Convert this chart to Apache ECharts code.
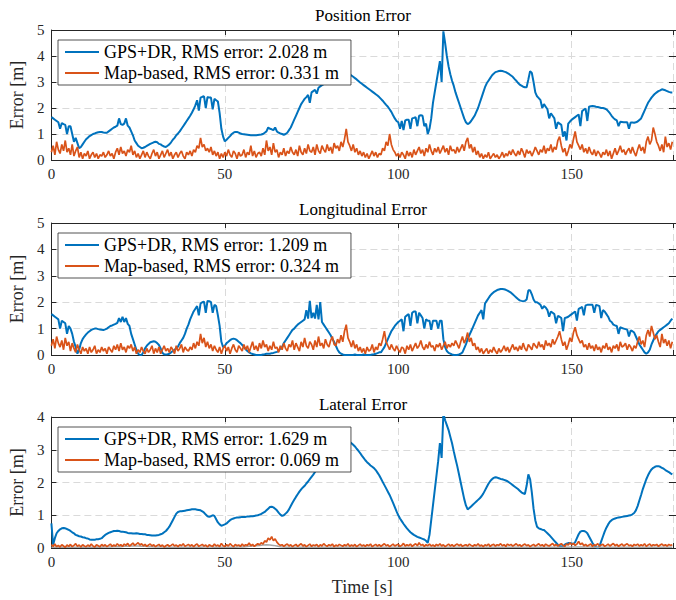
<!DOCTYPE html>
<html>
<head>
<meta charset="utf-8">
<script src="https://cdn.jsdelivr.net/npm/echarts@6/dist/echarts.min.js"></script>
<style>html,body{margin:0;padding:0;background:#fff;}#chart{width:676px;height:600px;}</style>
</head>
<body>
<div id="chart"></div>
<script>
// ---- DATA (sampled every 0.5 s unless noted) ----
const SAMPLE_STEP = 0.5;
const subplotTitles = ['Position Error', 'Longitudinal Error', 'Lateral Error'];
const xTickValues = [0, 50, 100, 150];
const yMaxes = [5, 5, 4];
const gpsNames = ['GPS+DR, RMS error: 2.028 m', 'GPS+DR, RMS error: 1.209 m', 'GPS+DR, RMS error: 1.629 m'];
const mapNames = ['Map-based, RMS error: 0.331 m', 'Map-based, RMS error: 0.324 m', 'Map-based, RMS error: 0.069 m'];

const positionGps = [
1.65,1.6,1.55,1.5,1.45,1.2,1.42,1.38,1.35,1.0,
1.3,1.3,1.0,0.7,0.85,0.65,0.45,0.5,0.6,0.7,
0.8,0.86,0.92,0.96,1.0,1.02,1.05,1.07,1.08,1.08,
1.06,1.05,1.05,1.1,1.15,1.2,1.25,1.28,1.32,1.6,
1.38,1.35,1.4,1.6,1.32,1.25,1.1,0.95,0.75,0.65,
0.55,0.5,0.45,0.47,0.5,0.54,0.58,0.62,0.65,0.68,
0.7,0.68,0.62,0.6,0.55,0.52,0.5,0.55,0.6,0.68,
0.78,0.85,0.95,1.02,1.1,1.2,1.3,1.4,1.5,1.6,
1.7,1.82,1.95,2.1,2.3,1.9,2.4,2.43,2.45,2.0,
2.42,2.4,2.4,1.95,2.35,2.3,2.25,1.8,1.2,0.9,
0.72,0.78,0.85,0.92,1.0,1.05,1.08,1.08,1.05,1.02,
1.0,0.99,0.98,0.97,0.96,0.95,0.95,0.95,0.95,0.96,
0.97,0.98,1.0,1.05,1.1,1.25,1.2,1.18,1.15,1.25,
1.1,1.05,1.02,1.0,0.97,1.0,1.05,1.15,1.25,1.4,
1.55,1.7,1.85,2.0,2.15,2.25,2.35,2.42,2.5,2.2,
2.6,2.65,2.7,2.55,2.78,2.83,2.88,2.92,2.95,3.0,
3.05,3.1,3.15,3.2,3.25,3.28,3.3,3.32,3.33,3.34,
3.33,3.32,3.3,3.25,3.2,3.15,3.1,3.04,2.98,2.93,
2.88,2.83,2.78,2.73,2.68,2.63,2.58,2.53,2.48,2.42,
2.35,2.28,2.2,2.12,2.05,1.95,1.85,1.72,1.6,1.5,
1.45,1.2,1.5,1.15,1.52,1.55,1.55,1.2,1.6,1.62,
1.65,1.3,1.7,1.72,1.7,1.3,1.4,1.0,1.2,1.6,
2.2,2.6,3.0,3.4,3.8,3.0,4.95,4.5,4.0,3.6,
3.3,3.05,2.85,2.6,2.4,2.2,2.0,1.8,1.6,1.45,
1.38,1.42,1.5,1.6,1.7,1.85,2.0,2.2,2.4,2.6,
2.8,2.95,3.05,3.15,3.25,3.32,3.38,3.4,3.42,3.43,
3.42,3.4,3.38,3.34,3.3,3.25,3.2,3.12,3.05,2.97,
2.9,2.86,2.82,2.8,2.8,3.1,3.42,3.35,3.0,2.6,
2.45,2.38,2.3,2.0,2.15,2.05,1.95,1.6,1.8,1.7,
1.6,1.2,1.45,1.4,1.35,0.9,1.1,0.75,1.4,1.48,
1.55,1.6,1.65,1.7,1.75,1.3,1.88,1.93,1.98,1.5,
2.05,2.07,2.08,2.07,2.05,2.04,2.02,2.0,2.0,1.98,
1.95,1.88,1.8,1.7,1.62,1.56,1.52,1.3,1.47,1.46,
1.45,1.45,1.45,1.2,1.44,1.44,1.43,1.45,1.48,1.54,
1.6,1.75,1.9,2.05,2.2,2.3,2.4,2.48,2.55,2.6,
2.65,2.68,2.72,2.7,2.68,2.65,2.62,2.6,2.6
];

const positionMap = [
0.3,0.55,0.2,0.7,0.4,0.25,0.6,0.35,0.75,0.3,
0.45,0.2,0.6,0.15,0.35,0.5,0.1,0.3,0.05,0.25,
0.15,0.35,0.05,0.2,0.3,0.1,0.25,0.05,0.2,0.15,
0.3,0.1,0.2,0.35,0.15,0.25,0.05,0.3,0.45,0.2,
0.5,0.25,0.35,0.15,0.4,0.3,0.55,0.2,0.35,0.1,
0.25,0.05,0.2,0.35,0.1,0.3,0.15,0.05,0.25,0.4,
0.15,0.3,0.05,0.2,0.35,0.1,0.25,0.4,0.15,0.3,
0.05,0.2,0.3,0.1,0.25,0.35,0.15,0.05,0.3,0.2,
0.35,0.15,0.4,0.3,0.55,0.45,0.85,0.5,0.6,0.35,
0.45,0.3,0.5,0.2,0.35,0.15,0.3,0.05,0.25,0.1,
0.3,0.15,0.4,0.2,0.1,0.35,0.25,0.05,0.3,0.15,
0.2,0.4,0.1,0.3,0.2,0.55,0.15,0.35,0.1,0.25,
0.3,0.15,0.45,0.2,0.75,0.35,0.5,0.2,0.65,0.3,
0.4,0.1,0.3,0.2,0.45,0.15,0.35,0.25,0.5,0.3,
0.2,0.4,0.15,0.55,0.3,0.2,0.45,0.25,0.6,0.35,
0.3,0.5,0.2,0.6,0.35,0.25,0.55,0.4,0.3,0.6,
0.35,0.5,0.25,0.65,0.45,0.55,0.35,0.7,0.5,0.8,
1.2,0.7,0.55,0.35,0.6,0.3,0.45,0.2,0.35,0.15,
0.3,0.1,0.25,0.05,0.2,0.35,0.15,0.3,0.1,0.25,
0.2,0.45,0.35,0.7,0.55,1.0,0.6,0.4,0.3,0.15,
0.25,0.1,0.3,0.2,0.05,0.35,0.15,0.3,0.1,0.4,
0.2,0.35,0.5,0.25,0.4,0.15,0.45,0.3,0.6,0.35,
0.2,0.45,0.3,0.5,0.25,0.4,0.55,0.3,0.45,0.2,
0.55,0.35,0.4,0.25,0.5,0.3,0.45,0.6,0.35,0.7,
0.85,0.45,0.6,0.3,0.5,0.2,0.35,0.1,0.25,0.05,
0.2,0.1,0.3,0.05,0.15,0.25,0.1,0.2,0.05,0.15,
0.3,0.1,0.25,0.15,0.35,0.2,0.4,0.25,0.15,0.35,
0.2,0.45,0.3,0.1,0.4,0.25,0.35,0.15,0.3,0.5,
0.35,0.2,0.4,0.3,0.55,0.25,0.45,0.35,0.6,0.3,
0.5,0.4,0.75,0.9,0.55,0.3,0.45,0.15,0.35,0.6,
0.45,0.8,1.1,0.7,0.55,0.4,0.6,0.3,0.45,0.25,
0.5,0.3,0.2,0.4,0.15,0.35,0.25,0.1,0.3,0.2,
0.4,0.15,0.35,0.05,0.25,0.45,0.2,0.35,0.55,0.3,
0.4,0.2,0.35,0.45,0.25,0.5,0.3,0.15,0.4,0.6,
0.35,0.5,0.25,0.7,0.9,0.6,0.75,1.25,1.0,0.7,
0.55,0.35,0.6,0.3,0.9,0.5,0.65,0.4,0.7
];

const longitudinalGps = [
1.55,1.5,1.45,1.4,1.35,1.0,1.3,1.25,1.2,0.8,
1.1,1.0,0.8,0.5,0.3,0.05,0.2,0.45,0.6,0.7,
0.78,0.85,0.9,0.95,0.98,1.0,1.0,0.98,0.97,0.96,
0.95,0.97,1.0,1.05,1.1,1.12,1.15,1.18,1.22,1.4,
1.25,1.45,1.25,1.4,1.18,1.1,0.8,0.6,0.4,0.2,
0.05,0.0,0.0,0.1,0.25,0.35,0.42,0.48,0.5,0.52,
0.5,0.45,0.38,0.25,0.08,0.03,0.02,0.03,0.05,0.1,
0.15,0.2,0.25,0.32,0.45,0.55,0.65,0.8,1.0,1.15,
1.35,1.5,1.65,1.75,1.85,1.5,1.95,2.0,2.02,1.6,
2.05,2.04,2.0,1.6,1.9,1.85,1.5,1.1,0.5,0.3,
0.35,0.45,0.5,0.56,0.6,0.62,0.6,0.56,0.5,0.45,
0.38,0.3,0.22,0.15,0.1,0.06,0.04,0.02,0.0,0.0,
0.0,0.0,0.02,0.03,0.05,0.05,0.05,0.07,0.08,0.1,
0.12,0.15,0.25,0.3,0.45,0.55,0.65,0.75,0.85,0.95,
1.0,1.08,1.15,1.2,1.25,1.3,1.35,1.7,1.38,2.05,
1.4,1.6,1.38,1.9,1.35,2.0,1.25,1.15,1.05,0.95,
0.85,0.75,0.6,0.5,0.35,0.2,0.1,0.05,0.02,0.0,
0.0,0.0,0.0,0.0,0.0,0.02,0.0,0.0,0.0,0.0,
0.02,0.0,0.0,0.0,0.0,0.02,0.03,0.05,0.07,0.1,
0.1,0.2,0.3,0.45,0.6,0.75,0.9,1.0,1.1,1.18,
1.25,1.3,1.35,0.9,1.45,1.5,1.55,1.1,1.6,1.65,
1.65,1.2,1.6,1.5,1.4,1.0,1.35,1.3,1.3,0.95,
1.3,1.3,1.3,1.0,1.3,1.3,0.6,0.3,0.15,0.08,
0.05,0.02,0.0,0.0,0.0,0.02,0.05,0.1,0.25,0.4,
0.6,0.75,0.9,1.05,1.2,1.35,1.5,1.6,1.7,1.35,
1.95,2.05,2.15,2.25,2.32,2.38,2.42,2.46,2.48,2.5,
2.5,2.49,2.47,2.44,2.4,2.36,2.3,2.24,2.18,2.12,
2.07,2.05,2.04,2.05,2.1,2.45,2.45,2.3,2.1,2.0,
2.0,1.95,1.9,1.75,1.85,1.8,1.7,1.45,1.65,1.6,
1.55,1.2,1.48,1.45,1.4,0.9,1.4,1.42,1.45,1.5,
1.55,1.6,1.65,1.3,1.75,1.78,1.82,1.5,1.88,1.9,
1.9,1.9,1.9,1.6,1.9,1.88,1.85,1.4,1.7,1.65,
1.55,1.45,1.3,1.25,1.15,1.12,1.1,0.8,1.05,1.02,
1.0,0.98,0.96,0.7,0.93,0.9,0.85,0.7,0.55,0.4,
0.3,0.2,0.1,0.05,0.1,0.2,0.4,0.55,0.7,0.8,
0.9,0.95,1.0,1.05,1.1,1.15,1.2,1.3,1.38
];

const longitudinalMap = [
0.35,0.6,0.25,0.7,0.45,0.3,0.55,0.2,0.65,0.35,
0.5,0.15,0.45,0.25,0.1,0.4,0.2,0.05,0.3,0.15,
0.25,0.05,0.3,0.1,0.2,0.35,0.05,0.2,0.1,0.3,
0.15,0.25,0.05,0.3,0.2,0.1,0.35,0.2,0.4,0.15,
0.45,0.2,0.3,0.1,0.35,0.25,0.4,0.15,0.3,0.05,
0.2,0.1,0.3,0.15,0.05,0.25,0.1,0.2,0.35,0.05,
0.25,0.1,0.3,0.05,0.2,0.35,0.15,0.25,0.1,0.3,
0.2,0.05,0.35,0.15,0.25,0.4,0.1,0.3,0.2,0.15,
0.3,0.2,0.45,0.25,0.5,0.35,0.8,0.45,0.65,0.3,
0.5,0.25,0.4,0.15,0.35,0.2,0.1,0.3,0.05,0.25,
0.35,0.15,0.3,0.05,0.25,0.4,0.2,0.1,0.35,0.25,
0.15,0.4,0.2,0.35,0.1,0.3,0.5,0.2,0.35,0.15,
0.45,0.25,0.55,0.3,0.4,0.15,0.35,0.2,0.5,0.25,
0.3,0.1,0.35,0.2,0.45,0.25,0.15,0.4,0.3,0.55,
0.2,0.45,0.3,0.15,0.5,0.3,0.65,0.35,0.25,0.5,
0.4,0.2,0.55,0.3,0.7,0.35,0.45,0.25,0.6,0.4,
0.3,0.55,0.7,0.4,0.35,0.6,0.45,0.75,0.5,0.9,
1.15,0.65,0.5,0.3,0.55,0.25,0.4,0.15,0.3,0.1,
0.25,0.05,0.3,0.15,0.2,0.4,0.1,0.3,0.2,0.45,
0.35,0.6,0.9,0.5,0.35,0.2,0.4,0.25,0.15,0.35,
0.2,0.1,0.3,0.25,0.05,0.35,0.2,0.4,0.15,0.3,
0.45,0.25,0.35,0.55,0.3,0.2,0.4,0.25,0.5,0.3,
0.35,0.15,0.4,0.3,0.45,0.2,0.35,0.5,0.25,0.4,
0.3,0.45,0.35,0.55,0.4,0.25,0.5,0.7,0.45,0.6,
0.85,0.5,0.65,0.35,0.45,0.2,0.3,0.1,0.25,0.05,
0.15,0.25,0.05,0.2,0.1,0.3,0.15,0.05,0.25,0.1,
0.2,0.35,0.15,0.3,0.1,0.25,0.4,0.2,0.3,0.15,
0.35,0.2,0.45,0.25,0.15,0.4,0.3,0.2,0.45,0.35,
0.25,0.5,0.3,0.4,0.2,0.55,0.35,0.45,0.3,0.6,
0.4,0.55,0.7,0.9,0.6,0.35,0.5,0.2,0.4,0.65,
0.5,0.85,1.05,0.75,0.6,0.45,0.55,0.3,0.4,0.2,
0.45,0.25,0.35,0.15,0.4,0.2,0.3,0.1,0.35,0.25,
0.45,0.2,0.3,0.1,0.35,0.25,0.4,0.15,0.5,0.3,
0.35,0.45,0.2,0.4,0.3,0.15,0.35,0.25,0.5,0.7,
0.4,0.55,0.3,0.75,0.95,0.7,1.1,0.85,0.6,0.75,
0.5,0.3,0.8,0.45,0.6,0.35,0.55,0.25,0.5
];

const lateralGps = [
0.75,0.1,0.3,0.45,0.52,0.57,0.6,0.61,0.6,0.58,
0.55,0.52,0.48,0.45,0.4,0.38,0.36,0.35,0.33,0.32,
0.3,0.29,0.26,0.25,0.25,0.25,0.27,0.27,0.28,0.3,
0.35,0.4,0.43,0.46,0.48,0.5,0.52,0.52,0.53,0.52,
0.5,0.5,0.49,0.48,0.46,0.45,0.45,0.44,0.44,0.45,
0.44,0.43,0.43,0.42,0.42,0.4,0.4,0.39,0.38,0.38,
0.38,0.39,0.4,0.42,0.44,0.48,0.52,0.58,0.65,0.75,
0.85,0.95,1.05,1.1,1.12,1.12,1.13,1.14,1.15,1.16,
1.17,1.18,1.18,1.18,1.17,1.16,1.15,1.12,1.08,1.02,
0.97,0.95,0.97,1.0,0.98,0.88,0.78,0.72,0.68,0.7,
0.72,0.75,0.8,0.85,0.88,0.9,0.92,0.93,0.93,0.94,
0.95,0.95,0.95,0.96,0.96,0.97,0.97,0.98,0.99,1.0,
1.02,1.04,1.07,1.1,1.15,1.2,1.25,1.26,1.24,1.2,
1.15,1.08,1.02,0.98,1.0,1.05,1.1,1.18,1.28,1.38,
1.47,1.56,1.64,1.72,1.79,1.85,1.9,1.97,2.03,2.1,
2.17,2.24,2.32,2.4,2.48,2.57,2.65,2.74,2.82,2.9,
2.98,3.05,3.1,3.15,3.2,3.24,3.28,3.3,3.32,3.33,
3.32,3.28,3.24,3.2,3.15,3.1,3.03,2.97,2.9,2.82,
2.75,2.68,2.62,2.57,2.52,2.48,2.44,2.38,2.3,2.22,
2.12,2.02,1.92,1.82,1.72,1.62,1.5,1.38,1.25,1.12,
1.0,0.9,0.82,0.74,0.67,0.6,0.54,0.48,0.44,0.4,
0.37,0.34,0.32,0.3,0.28,0.26,0.22,0.16,0.4,0.85,
1.3,1.75,2.2,2.65,3.2,2.75,4.1,3.9,3.75,3.6,
3.4,3.2,2.95,2.72,2.5,2.25,2.0,1.75,1.5,1.3,
1.18,1.22,1.27,1.32,1.37,1.42,1.47,1.52,1.58,1.66,
1.76,1.86,1.96,2.04,2.1,2.14,2.16,2.15,2.13,2.11,
2.1,2.08,2.06,2.04,2.0,1.96,1.92,1.88,1.84,1.8,
1.75,1.7,1.67,1.65,1.9,2.25,2.1,1.7,1.2,0.85,
0.65,0.6,0.58,0.56,0.55,0.5,0.45,0.4,0.34,0.28,
0.22,0.16,0.1,0.06,0.05,0.06,0.1,0.13,0.15,0.15,
0.14,0.12,0.18,0.3,0.42,0.5,0.52,0.52,0.5,0.45,
0.35,0.25,0.15,0.08,0.03,0.0,0.05,0.2,0.35,0.5,
0.62,0.72,0.8,0.85,0.88,0.9,0.92,0.93,0.94,0.95,
0.96,0.97,0.98,0.99,1.0,1.03,1.07,1.15,1.28,1.45,
1.62,1.8,1.95,2.1,2.22,2.32,2.4,2.45,2.48,2.5,
2.5,2.48,2.45,2.42,2.38,2.35,2.32,2.28,2.25
];

const lateralMap = [
0.1,0.05,0.12,0.04,0.08,0.03,0.1,0.06,0.02,0.09,
0.05,0.11,0.04,0.08,0.13,0.05,0.09,0.03,0.1,0.06,
0.04,0.09,0.05,0.12,0.06,0.03,0.1,0.07,0.04,0.11,
0.06,0.1,0.04,0.08,0.12,0.05,0.09,0.06,0.13,0.07,
0.1,0.05,0.12,0.08,0.14,0.06,0.1,0.15,0.08,0.12,
0.16,0.09,0.13,0.07,0.11,0.05,0.09,0.12,0.06,0.1,
0.04,0.08,0.11,0.05,0.09,0.03,0.07,0.1,0.05,0.08,
0.12,0.06,0.09,0.04,0.1,0.07,0.13,0.05,0.08,0.11,
0.06,0.1,0.04,0.09,0.12,0.05,0.08,0.11,0.06,0.09,
0.03,0.1,0.07,0.05,0.12,0.06,0.09,0.04,0.14,0.07,
0.05,0.1,0.06,0.13,0.08,0.04,0.11,0.07,0.09,0.05,
0.12,0.06,0.1,0.08,0.15,0.07,0.11,0.05,0.09,0.13,
0.1,0.16,0.12,0.22,0.18,0.3,0.25,0.35,0.22,0.28,
0.18,0.12,0.08,0.1,0.05,0.09,0.12,0.06,0.1,0.04,
0.08,0.11,0.05,0.09,0.13,0.06,0.1,0.04,0.08,0.12,
0.05,0.09,0.07,0.11,0.04,0.1,0.06,0.13,0.08,0.05,
0.1,0.07,0.12,0.04,0.09,0.06,0.11,0.08,0.05,0.1,
0.07,0.13,0.05,0.09,0.06,0.11,0.04,0.08,0.12,0.06,
0.09,0.05,0.1,0.07,0.12,0.04,0.08,0.11,0.06,0.1,
0.05,0.09,0.13,0.07,0.1,0.04,0.08,0.12,0.06,0.09,
0.11,0.05,0.08,0.14,0.06,0.1,0.07,0.12,0.05,0.09,
0.13,0.07,0.16,0.08,0.11,0.05,0.1,0.07,0.12,0.06,
0.09,0.05,0.11,0.07,0.13,0.06,0.1,0.04,0.08,0.12,
0.06,0.1,0.05,0.09,0.12,0.07,0.11,0.05,0.08,0.1,
0.06,0.12,0.08,0.05,0.1,0.07,0.13,0.06,0.09,0.04,
0.1,0.07,0.12,0.05,0.09,0.11,0.06,0.1,0.08,0.13,
0.07,0.1,0.05,0.12,0.08,0.11,0.06,0.09,0.13,0.07,
0.1,0.05,0.09,0.12,0.07,0.1,0.04,0.08,0.11,0.06,
0.09,0.13,0.07,0.1,0.05,0.12,0.08,0.06,0.1,0.14,
0.07,0.11,0.06,0.1,0.13,0.08,0.05,0.12,0.09,0.16,
0.1,0.14,0.08,0.12,0.2,0.1,0.15,0.07,0.11,0.06,
0.09,0.12,0.05,0.1,0.08,0.13,0.06,0.09,0.11,0.05,
0.08,0.12,0.06,0.1,0.14,0.07,0.11,0.05,0.09,0.12,
0.06,0.1,0.13,0.07,0.09,0.05,0.11,0.08,0.12,0.06,
0.1,0.07,0.13,0.05,0.09,0.12,0.06,0.1,0.08,0.11,
0.05,0.09,0.12,0.07,0.1,0.06,0.11,0.08,0.1
];

// grey reference trace in the lateral plot (sampled every 1 s)
const REF_STEP = 1;
const lateralRef = [
0.02,0.02,0.03,0.02,0.02,0.03,0.02,0.02,0.02,0.02,
0.02,0.02,0.02,0.03,0.02,0.03,0.03,0.03,0.04,0.04,
0.04,0.05,0.05,0.06,0.06,0.06,0.05,0.05,0.04,0.04,
0.03,0.03,0.03,0.02,0.02,0.02,0.02,0.02,0.02,0.02,
0.02,0.02,0.02,0.02,0.03,0.03,0.03,0.02,0.02,0.02,
0.02,0.02,0.02,0.02,0.03,0.03,0.04,0.05,0.06,0.07,
0.08,0.09,0.1,0.09,0.08,0.06,0.04,0.03,0.02,0.02,
0.02,0.02,0.02,0.03,0.02,0.02,0.02,0.02,0.02,0.02,
0.02,0.02,0.02,0.02,0.02,0.03,0.02,0.02,0.02,0.02,
0.02,0.02,0.02,0.02,0.02,0.02,0.02,0.02,0.02,0.02,
0.02,0.02,0.02,0.02,0.02,0.02,0.03,0.02,0.02,0.02,
0.02,0.02,0.02,0.02,0.02,0.02,0.02,0.02,0.02,0.02,
0.02,0.02,0.02,0.02,0.02,0.02,0.02,0.02,0.02,0.02,
0.02,0.02,0.02,0.02,0.02,0.02,0.02,0.02,0.02,0.02,
0.02,0.02,0.02,0.02,0.02,0.02,0.02,0.02,0.02,0.02,
0.03,0.03,0.03,0.03,0.03,0.03,0.02,0.02,0.02,0.02,
0.02,0.02,0.02,0.02,0.02,0.02,0.02,0.02,0.02,0.02,
0.02,0.02,0.02,0.02,0.02,0.02,0.02,0.02,0.02,0.02
];

// ---- BUILD ----
const gpsSeries = [positionGps, longitudinalGps, lateralGps];
const mapSeries = [positionMap, longitudinalMap, lateralMap];

const FONT = 'Liberation Serif';
const AX = '#262626';
const BLUE = '#0072BD', ORANGE = '#D95319', GREY = '#a6a6a6';
const X_MAX = 179.2;
const gridTops = [30, 223, 417];
const gridHeights = [130, 132, 131];
const titleYs = [16, 210, 405];

function toPairs(values, step) { return values.map((v, i) => [i * step, v]); }

const grid = [], xAxis = [], yAxis = [], series = [], legend = [], title = [];
for (let g = 0; g < 3; g++) {
  grid.push({ left: 47, right: 0, top: gridTops[g], height: gridHeights[g] });
  const splitStyle = { show: true, lineStyle: { color: '#dadada', type: [7, 4], width: 1 } };
  xAxis.push({
    type: 'value', gridIndex: g, min: 0, max: X_MAX, interval: 50, position: 'bottom',
    axisLine: { show: true, onZero: false, lineStyle: { color: AX, width: 1 } },
    axisTick: { show: true, inside: true, length: 5, lineStyle: { color: AX } },
    axisLabel: { color: AX, fontFamily: FONT, fontSize: 15, margin: 6,
      formatter: v => (xTickValues.indexOf(v) >= 0 ? String(v) : '') },
    splitLine: splitStyle,
    name: g === 2 ? 'Time [s]' : '', nameLocation: 'middle', nameGap: 30,
    nameTextStyle: { color: AX, fontFamily: FONT, fontSize: 18 }
  });
  xAxis.push({
    type: 'value', gridIndex: g, min: 0, max: X_MAX, interval: 50, position: 'top',
    axisLine: { show: true, onZero: false, lineStyle: { color: AX, width: 1 } },
    axisTick: { show: true, inside: true, length: 5, lineStyle: { color: AX } },
    axisLabel: { show: false }, splitLine: { show: false }
  });
  yAxis.push({
    type: 'value', gridIndex: g, min: 0, max: yMaxes[g], interval: 1, position: 'left',
    axisLine: { show: true, onZero: false, lineStyle: { color: AX, width: 1 } },
    axisTick: { show: true, inside: true, length: 5, lineStyle: { color: AX } },
    axisLabel: { color: AX, fontFamily: FONT, fontSize: 15, margin: 7 },
    splitLine: splitStyle,
    name: 'Error [m]', nameLocation: 'middle', nameGap: 25,
    nameTextStyle: { color: AX, fontFamily: FONT, fontSize: 18 }
  });
  yAxis.push({
    type: 'value', gridIndex: g, min: 0, max: yMaxes[g], interval: 1, position: 'right', offset: 3,
    axisLine: { show: true, onZero: false, lineStyle: { color: AX, width: 1 } },
    axisTick: { show: true, inside: true, length: 7, lineStyle: { color: AX } },
    axisLabel: { show: false }, splitLine: { show: false }
  });
  series.push({
    name: gpsNames[g], type: 'line', xAxisIndex: 2 * g, yAxisIndex: 2 * g,
    data: toPairs(gpsSeries[g], SAMPLE_STEP), showSymbol: false, symbol: 'none',
    lineStyle: { color: BLUE, width: 2 }, itemStyle: { color: BLUE }, z: 2
  });
  if (g === 2) {
    series.push({
      name: 'ref', type: 'line', xAxisIndex: 4, yAxisIndex: 4,
      data: toPairs(lateralRef, REF_STEP), showSymbol: false, symbol: 'none',
      lineStyle: { color: GREY, width: 1.5 }, itemStyle: { color: GREY }, z: 2
    });
  }
  series.push({
    name: mapNames[g], type: 'line', xAxisIndex: 2 * g, yAxisIndex: 2 * g,
    data: toPairs(mapSeries[g], SAMPLE_STEP), showSymbol: false, symbol: 'none',
    lineStyle: { color: ORANGE, width: 1.7 }, itemStyle: { color: ORANGE }, z: 3
  });
  legend.push({
    data: [gpsNames[g], mapNames[g]], orient: 'vertical', left: 58, top: gridTops[g] + 10,
    backgroundColor: '#fff', borderColor: AX, borderWidth: 0.8, borderRadius: 0,
    padding: [2, 12, 2, 7], itemGap: 1, itemWidth: 34, itemHeight: 2, icon: 'rect',
    selectedMode: false,
    textStyle: { color: '#000', fontFamily: FONT, fontSize: 18, lineHeight: 20 }
  });
  title.push({
    text: subplotTitles[g], left: 363, top: titleYs[g] - 9, textAlign: 'center', padding: 0,
    textStyle: { color: '#000', fontFamily: FONT, fontSize: 17, fontWeight: 'normal' }
  });
}

const chart = echarts.init(document.getElementById('chart'), null, { renderer: 'svg' });
chart.setOption({
  animation: false, backgroundColor: '#fff',
  textStyle: { fontFamily: FONT },
  title, grid, xAxis, yAxis, series, legend
});
</script>
</body>
</html>
